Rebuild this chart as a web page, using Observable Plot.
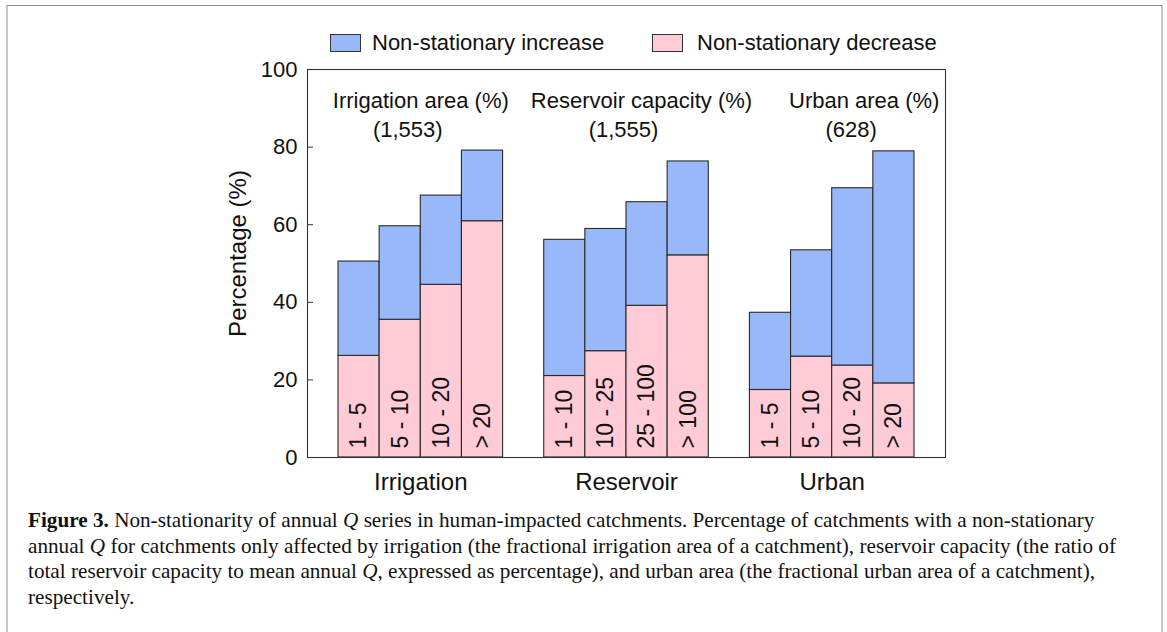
<!DOCTYPE html>
<html>
<head>
<meta charset="utf-8">
<script src="https://cdn.jsdelivr.net/npm/d3@7"></script>
<script src="https://cdn.jsdelivr.net/npm/@observablehq/plot@0.6"></script>
<style>
  html, body { margin: 0; padding: 0; background: #fff; }
  #wrap { position: relative; width: 1167px; height: 632px; overflow: hidden; font-family: "Liberation Sans", Arial, sans-serif; }
  #border { position: absolute; left: 6px; top: 5px; width: 1153px; height: 700px;
            border-top: 1px solid #8e8e8e; border-left: 2px solid #c6c6c6; border-right: 2px solid #c6c6c6; }
  #chart { position: absolute; left: 0; top: 0; }
  .sw { position: absolute; width: 31px; height: 18px; border: 1px solid #333; box-sizing: border-box; }
  .lt { position: absolute; font-size: 22px; line-height: 22px; color: #111; white-space: nowrap; }
  #caption { position: absolute; left: 28px; top: 508px; width: 1125px; font-family: "Liberation Serif", "Times New Roman", serif;
             font-size: 21.2px; line-height: 25.7px; color: #111; white-space: nowrap; }
</style>
</head>
<body>
<div id="wrap">
  <div id="border"></div>
  <div id="chart"></div>
  <div id="legend"></div>
  <div id="caption"><b>Figure 3.</b> Non-stationarity of annual <i>Q</i> series in human-impacted catchments. Percentage of catchments with a non-stationary<br>annual <i>Q</i> for catchments only affected by irrigation (the fractional irrigation area of a catchment), reservoir capacity (the ratio of<br>total reservoir capacity to mean annual <i>Q</i>, expressed as percentage), and urban area (the fractional urban area of a catchment),<br>respectively.</div>
</div>
<script>
// ---------- data ----------
const groups = ["Irrigation", "Reservoir", "Urban"];
const groupTitles = ["Irrigation area (%)", "Reservoir capacity (%)", "Urban area (%)"];
const groupCounts = ["(1,553)", "(1,555)", "(628)"];
const binLabels = [
  ["1 - 5", "5 - 10", "10 - 20", "> 20"],
  ["1 - 10", "10 - 25", "25 - 100", "> 100"],
  ["1 - 5", "5 - 10", "10 - 20", "> 20"]
];
const decreasePct = [
  [26.2, 35.5, 44.5, 60.9],
  [21.0, 27.4, 39.1, 52.1],
  [17.4, 26.0, 23.7, 19.1]
];
const increasePct = [
  [24.3, 24.1, 23.0, 18.2],
  [35.1, 31.5, 26.7, 24.2],
  [19.9, 27.4, 45.7, 59.8]
];
const seriesNames = ["Non-stationary increase", "Non-stationary decrease"];
const yTicks = [0, 20, 40, 60, 80, 100];
const yLabel = "Percentage (%)";

// ---------- layout / style ----------
const colors = ["#99b8fa", "#ffcbd6"];
const slotsPerGroup = 5; // 4 bars + 1 gap slot
const titleShift = [0, 15, 32];
const countShift = [-13, -3, 19];

// Build rows
const rows = [];
groups.forEach((g, gi) => {
  binLabels[gi].forEach((lab, bi) => {
    const pos = gi * slotsPerGroup + bi;
    const dec = decreasePct[gi][bi];
    const inc = increasePct[gi][bi];
    rows.push({group: g, label: lab, pos, y1: 0, y2: dec, series: seriesNames[1]});
    rows.push({group: g, label: lab, pos, y1: dec, y2: dec + inc, series: seriesNames[0]});
  });
});
const barRows = rows.filter(d => d.series === seriesNames[1]);
const groupRows = groups.map((g, gi) => ({
  group: g, title: groupTitles[gi], count: groupCounts[gi],
  center: gi * slotsPerGroup + (binLabels[gi].length - 1) / 2
}));
const nSlots = groups.length * slotsPerGroup - 1;

const chart = Plot.plot({
  width: 1167,
  height: 500,
  marginTop: 69,
  marginBottom: 43,
  marginLeft: 307,
  marginRight: 222,
  style: {fontFamily: "'Liberation Sans', Arial, sans-serif", color: "#111", background: "transparent"},
  x: {type: "linear", domain: [-1.254, nSlots - 1 + 1.254], axis: null},
  y: {domain: [0, 100], axis: null},
  color: {domain: seriesNames, range: colors},
  marks: [
    Plot.rectY(rows, {
      x1: d => d.pos - 0.5, x2: d => d.pos + 0.5, y1: "y1", y2: "y2",
      fill: "series", stroke: "#2a2a2a", strokeWidth: 1.1
    }),
    Plot.text(barRows, {
      x: "pos", y: 0, text: "label", rotate: -90, textAnchor: "start",
      lineAnchor: "middle", dy: -9, fontSize: 23, fill: "#111"
    }),
    ...groupRows.map((d, gi) => Plot.text([d], {
      x: "center", y: 100, text: "title", dy: 31, dx: titleShift[gi],
      fontSize: 22, fill: "#111"
    })),
    ...groupRows.map((d, gi) => Plot.text([d], {
      x: "center", y: 100, text: "count", dy: 60, dx: countShift[gi],
      fontSize: 22, fill: "#111"
    })),
    Plot.text(groupRows, {
      x: "center", y: 0, text: "group", dy: 25, fontSize: 24, fill: "#111", clip: false
    }),
    Plot.axisY({
      ticks: yTicks, tickSize: -6, tickPadding: 16, fontSize: 22, label: null, stroke: "#333"
    }),
    Plot.text([yLabel], {
      frameAnchor: "left", textAnchor: "middle", text: d => d, rotate: -90, dx: -69, dy: -10, fontSize: 24, fill: "#111"
    }),
    Plot.frame({stroke: "#333", strokeWidth: 1.1})
  ]
});
document.getElementById("chart").appendChild(chart);

// Legend
const legend = document.getElementById("legend");
const legendPos = [{sw: 330, tx: 372}, {sw: 652, tx: 697}];
seriesNames.forEach((name, i) => {
  const sw = document.createElement("div");
  sw.className = "sw";
  sw.style.left = legendPos[i].sw + "px";
  sw.style.top = "34px";
  sw.style.background = colors[i];
  legend.appendChild(sw);
  const t = document.createElement("div");
  t.className = "lt";
  t.textContent = name;
  t.style.left = legendPos[i].tx + "px";
  t.style.top = "32px";
  legend.appendChild(t);
});
</script>
</body>
</html>
